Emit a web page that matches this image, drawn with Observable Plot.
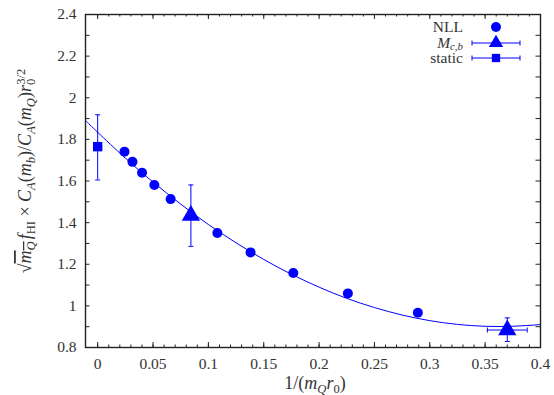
<!DOCTYPE html>
<html><head><meta charset="utf-8">
<script src="https://cdn.jsdelivr.net/npm/d3@7"></script>
<script src="https://cdn.jsdelivr.net/npm/@observablehq/plot@0.6"></script>
<style>
body{margin:0;background:#fff}
#chart svg{display:block}
#chart svg, #chart svg text, #chart svg tspan { font-family: "Liberation Serif", "DejaVu Serif", serif !important; }
</style>
</head><body><div id="chart"></div>
<script>
// ---- data ----
const nllX = [0.0242, 0.0314, 0.0401, 0.0512, 0.0659, 0.1081, 0.1381, 0.1767, 0.2260, 0.2892];
const nllY = [1.741, 1.692, 1.640, 1.581, 1.513, 1.350, 1.257, 1.158, 1.060, 0.967];

const mcbX    = [0.0842, 0.370];
const mcbY    = [1.434, 0.884];
const mcbYlo  = [1.286, 0.829];
const mcbYhi  = [1.581, 0.942];
const mcbXlo  = [0.0842, 0.352];
const mcbXhi  = [0.0842, 0.388];

const staticX   = [0];
const staticY   = [1.765];
const staticYlo = [1.605];
const staticYhi = [1.918];

// fitted curve
const fitX = [-0.011, 0, 0.025, 0.05, 0.075, 0.1, 0.125, 0.15, 0.175, 0.2, 0.225, 0.25, 0.275, 0.3, 0.325, 0.35, 0.375, 0.4];
const fitY = [1.891, 1.834, 1.710, 1.595, 1.489, 1.391, 1.303, 1.223, 1.152, 1.090, 1.036, 0.992, 0.956, 0.929, 0.911, 0.902, 0.902, 0.910];

const xTicks = [0, 0.05, 0.1, 0.15, 0.2, 0.25, 0.3, 0.35, 0.4];
const xTickLabels = ["0", "0.05", "0.1", "0.15", "0.2", "0.25", "0.3", "0.35", "0.4"];
const yTicks = [0.8, 1, 1.2, 1.4, 1.6, 1.8, 2, 2.2, 2.4];
const yTickLabels = ["0.8", "1", "1.2", "1.4", "1.6", "1.8", "2", "2.2", "2.4"];
const legendLabels = ["NLL", "M_c,b", "static"];

// ---- tables ----
const nll = nllX.map((x, i) => ({x, y: nllY[i]}));
const mcb = mcbX.map((x, i) => ({x, y: mcbY[i], ylo: mcbYlo[i], yhi: mcbYhi[i], xlo: mcbXlo[i], xhi: mcbXhi[i]}));
const stat = staticX.map((x, i) => ({x, y: staticY[i], ylo: staticYlo[i], yhi: staticYhi[i]}));
const fit = fitX.map((x, i) => ({x, y: fitY[i]}));
const xMinor = d3.range(0, 41).map(i => i / 100);
const yMinor = d3.range(8, 25).map(i => i / 10);

const W = 554, H = 395, ML = 85, MR = 14, MT = 14, MB = 48;
const FW = W - ML - MR, FH = H - MT - MB;
const BLUE = "#0000ff", INK = "#222", TXT = "#333";
const FONT = "Liberation Serif, DejaVu Serif, serif";
const FS = 15.5, LFS = 18;
const R_CIRC = 5, R_TRI = 6.8, R_SQ = 5.3;

const capH = {draw(ctx, size) { const r = Math.sqrt(size / Math.PI); ctx.moveTo(-r, 0); ctx.lineTo(r, 0); }};
const capV = {draw(ctx, size) { const r = Math.sqrt(size / Math.PI); ctx.moveTo(0, -r); ctx.lineTo(0, r); }};

const xErr = mcb.filter(d => d.xhi > d.xlo);

const chart = Plot.plot({
  width: W, height: H,
  marginLeft: ML, marginRight: MR, marginTop: MT, marginBottom: MB,
  style: {fontSize: FS + "px", fontFamily: FONT, color: TXT, background: "#fff"},
  x: {domain: [-0.011, 0.4]},
  y: {domain: [0.8, 2.4]},
  marks: [
    Plot.tickX(xMinor, {x: d => d, insetTop: FH - 2.5, stroke: INK, strokeWidth: 1}),
    Plot.tickX(xMinor, {x: d => d, insetBottom: FH - 2.5, stroke: INK, strokeWidth: 1}),
    Plot.tickX(xTicks, {x: d => d, insetTop: FH - 5, stroke: INK, strokeWidth: 1}),
    Plot.tickX(xTicks, {x: d => d, insetBottom: FH - 5, stroke: INK, strokeWidth: 1}),
    Plot.tickY(yMinor, {y: d => d, insetRight: FW - 4.5, stroke: INK, strokeWidth: 1}),
    Plot.tickY(yMinor, {y: d => d, insetLeft: FW - 4.5, stroke: INK, strokeWidth: 1}),
    Plot.axisX({ticks: xTicks, tickSize: 0, tickPadding: 10, tickFormat: d => xTickLabels[xTicks.indexOf(d)], label: null, fill: TXT}),
    Plot.axisY({ticks: yTicks, tickSize: 0, tickPadding: 9, tickFormat: d => yTickLabels[yTicks.indexOf(d)], label: null, fill: TXT}),
    Plot.line(fit, {x: "x", y: "y", stroke: BLUE, strokeWidth: 1, curve: "natural", clip: true}),
    Plot.ruleX(stat, {x: "x", y1: "ylo", y2: "yhi", stroke: BLUE, strokeWidth: 1}),
    Plot.dot(stat, {x: "x", y: "ylo", symbol: capH, r: 2.5, stroke: BLUE, strokeWidth: 1}),
    Plot.dot(stat, {x: "x", y: "yhi", symbol: capH, r: 2.5, stroke: BLUE, strokeWidth: 1}),
    Plot.ruleX(mcb, {x: "x", y1: "ylo", y2: "yhi", stroke: BLUE, strokeWidth: 1}),
    Plot.dot(mcb, {x: "x", y: "ylo", symbol: capH, r: 2.5, stroke: BLUE, strokeWidth: 1}),
    Plot.dot(mcb, {x: "x", y: "yhi", symbol: capH, r: 2.5, stroke: BLUE, strokeWidth: 1}),
    Plot.ruleY(xErr, {y: "y", x1: "xlo", x2: "xhi", stroke: BLUE, strokeWidth: 1}),
    Plot.dot(xErr, {x: "xlo", y: "y", symbol: capV, r: 2.5, stroke: BLUE, strokeWidth: 1}),
    Plot.dot(xErr, {x: "xhi", y: "y", symbol: capV, r: 2.5, stroke: BLUE, strokeWidth: 1}),
    Plot.dot(nll, {x: "x", y: "y", symbol: "circle", r: R_CIRC, fill: BLUE}),
    Plot.dot(mcb, {x: "x", y: "y", symbol: "triangle", r: R_TRI, fill: BLUE}),
    Plot.dot(stat, {x: "x", y: "y", symbol: "square", r: R_SQ, fill: BLUE}),
    Plot.frame({stroke: INK, strokeWidth: 1.4})
  ]
});

const svg = d3.select(chart);

function part(sel, t, opts = {}) {
  const s = sel.append("tspan").text(t);
  if (opts.it) s.attr("font-style", "italic");
  if (opts.sub) s.attr("baseline-shift", "-28%").attr("font-size", "70%");
  if (opts.sup) s.attr("baseline-shift", "45%").attr("font-size", "70%");
  if (opts.dx) s.attr("dx", opts.dx);
  return s;
}

// y axis label
const yl = svg.append("text")
  .attr("transform", `translate(31,171) rotate(-90)`)
  .attr("text-anchor", "middle")
  .attr("fill", TXT).attr("font-size", LFS);
part(yl, "√");
const over = yl.append("tspan").attr("text-decoration", "overline");
part(over, "m", {it: true});
part(over, "Q", {it: true, sub: true});
part(yl, "f", {it: true, dx: 2});
part(yl, "HI", {sub: true});
part(yl, " × ");
part(yl, "C", {it: true});
part(yl, "A", {it: true, sub: true});
part(yl, "(");
part(yl, "m", {it: true});
part(yl, "b", {it: true, sub: true});
part(yl, ")/");
part(yl, "C", {it: true});
part(yl, "A", {it: true, sub: true});
part(yl, "(");
part(yl, "m", {it: true});
part(yl, "Q", {it: true, sub: true});
part(yl, ")");
part(yl, "r", {it: true});
part(yl, "0", {sub: true});
part(yl, "3/2", {sup: true, dx: -6});

// x axis label
const xl = svg.append("text")
  .attr("x", 315).attr("y", 389)
  .attr("text-anchor", "middle")
  .attr("fill", TXT).attr("font-size", LFS);
part(xl, "1/(");
part(xl, "m", {it: true});
part(xl, "Q", {it: true, sub: true});
part(xl, "r", {it: true});
part(xl, "0", {sub: true});
part(xl, ")");

// legend
const lg = svg.append("g").attr("font-size", FS).attr("fill", TXT);
const lx = 463, mx = 496, rows = [27, 43, 58];
lg.append("text").attr("x", lx).attr("y", rows[0]).attr("dy", "0.35em").attr("text-anchor", "end").text(legendLabels[0]);
const t2 = lg.append("text").attr("x", lx).attr("y", rows[1]).attr("dy", "0.3em").attr("text-anchor", "end");
part(t2, legendLabels[1].split("_")[0], {it: true});
part(t2, legendLabels[1].split("_")[1], {it: true}).attr("font-size", "70%").attr("dy", 2);
lg.append("text").attr("x", lx).attr("y", rows[2]).attr("dy", "0.35em").attr("text-anchor", "end").text(legendLabels[2]);
const sym = (type, r) => d3.symbol(type, Math.PI * r * r)();
lg.append("path").attr("d", sym(d3.symbolCircle, R_CIRC)).attr("transform", `translate(${mx},${rows[0]})`).attr("fill", BLUE);
[1, 2].forEach(i => {
  const y = rows[i];
  lg.append("line").attr("x1", mx - 24).attr("x2", mx + 24).attr("y1", y).attr("y2", y).attr("stroke", BLUE);
  lg.append("line").attr("x1", mx - 24).attr("x2", mx - 24).attr("y1", y - 2.5).attr("y2", y + 2.5).attr("stroke", BLUE);
  lg.append("line").attr("x1", mx + 24).attr("x2", mx + 24).attr("y1", y - 2.5).attr("y2", y + 2.5).attr("stroke", BLUE);
});
lg.append("path").attr("d", sym(d3.symbolTriangle2, R_TRI)).attr("transform", `translate(${mx},${rows[1]})`).attr("fill", BLUE);
lg.append("path").attr("d", sym(d3.symbolSquare2, R_SQ)).attr("transform", `translate(${mx},${rows[2]})`).attr("fill", BLUE);

document.getElementById("chart").appendChild(chart);
</script></body></html>
